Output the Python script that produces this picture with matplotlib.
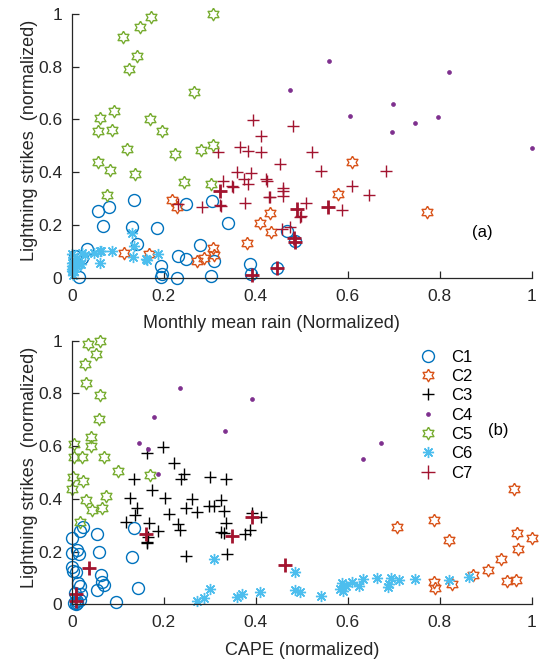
import numpy as np
import matplotlib
matplotlib.use("Agg")
import matplotlib.pyplot as plt

plt.rcParams['font.family'] = ['Liberation Sans', 'DejaVu Sans']

# ---------------- data (lightning strikes, monthly mean rain, CAPE) ----------------
c1_light = [0.294, 0.291, 0.279, 0.267, 0.253, 0.206, 0.197, 0.193, 0.189, 0.179, 0.140, 0.128,
            0.124, 0.111, 0.084, 0.082, 0.074, 0.070, 0.063, 0.054, 0.044, 0.038, 0.016, 0.014,
            0.007, 0.005, 0.004, 0.001]
c1_rain = [0.135, 0.304, 0.248, 0.081, 0.056, 0.339, 0.068, 0.130, 0.186, 0.467, 0.484, 0.141,
           0.278, 0.032, 0.230, 0.007, 0.021, 0.247, 0.309, 0.387, 0.193, 0.446, 0.195, 0.390,
           0.302, 0.193, 0.015, 0.229]
c1_cape = [0.024, 0.136, 0.017, 0.055, 0.000, 0.012, 0.059, 0.000, 0.015, 0.130, 0.000, 0.002,
           0.008, 0.063, 0.065, 0.013, 0.069, 0.018, 0.144, 0.054, 0.007, 0.020, 0.017, 0.010,
           0.096, 0.004, 0.012, 0.008]

c2_light = [0.439, 0.318, 0.295, 0.270, 0.250, 0.245, 0.208, 0.172, 0.131, 0.113, 0.093, 0.090,
            0.086, 0.076, 0.062]
c2_rain = [0.609, 0.578, 0.217, 0.229, 0.772, 0.431, 0.409, 0.432, 0.380, 0.306, 0.114, 0.168,
           0.309, 0.287, 0.271]
c2_cape = [0.961, 0.787, 0.706, 0.967, 1.000, 0.820, 0.970, 0.933, 0.904, 0.872, 0.965, 0.946,
           0.787, 0.827, 0.789]

c3_light = [0.597, 0.574, 0.536, 0.494, 0.482, 0.477, 0.477, 0.475, 0.433, 0.405, 0.405, 0.400,
            0.396, 0.374, 0.374, 0.367, 0.366, 0.354, 0.349, 0.348, 0.344, 0.339, 0.330, 0.314,
            0.309, 0.307, 0.305, 0.283, 0.282, 0.279, 0.275, 0.272, 0.267, 0.257, 0.235, 0.232,
            0.192, 0.184]
c3_rain = [0.393, 0.480, 0.412, 0.365, 0.382, 0.318, 0.412, 0.522, 0.452, 0.541, 0.683, 0.359,
           0.389, 0.375, 0.423, 0.329, 0.425, 0.383, 0.609, 0.348, 0.350, 0.459, 0.460, 0.646,
           0.459, 0.429, 0.431, 0.376, 0.510, 0.230, 0.323, 0.325, 0.283, 0.587, 0.499, 0.496,
           0.474, 0.457]
c3_cape = [0.199, 0.164, 0.221, 0.244, 0.300, 0.238, 0.335, 0.136, 0.175, 0.127, 0.202, 0.260,
           0.325, 0.297, 0.309, 0.141, 0.248, 0.330, 0.271, 0.391, 0.211, 0.137, 0.412, 0.117,
           0.167, 0.334, 0.231, 0.236, 0.387, 0.187, 0.324, 0.331, 0.377, 0.166, 0.164, 0.164,
           0.338, 0.249]

c4_light = [0.821, 0.778, 0.711, 0.657, 0.612, 0.611, 0.588, 0.551, 0.493]
c4_rain = [0.559, 0.820, 0.474, 0.699, 0.604, 0.795, 0.745, 0.696, 1.000]
c4_cape = [0.236, 0.392, 0.178, 0.332, 0.146, 0.672, 0.166, 0.633, 0.188]

c5_light = [1.000, 0.988, 0.951, 0.913, 0.839, 0.792, 0.703, 0.633, 0.607, 0.600, 0.560, 0.558,
            0.557, 0.505, 0.490, 0.484, 0.468, 0.439, 0.409, 0.394, 0.364, 0.356, 0.312]
c5_rain = [0.307, 0.171, 0.149, 0.110, 0.141, 0.124, 0.265, 0.091, 0.062, 0.169, 0.086, 0.057,
           0.195, 0.306, 0.120, 0.280, 0.224, 0.056, 0.082, 0.138, 0.244, 0.302, 0.077]
c5_cape = [0.062, 0.034, 0.053, 0.028, 0.030, 0.061, 0.059, 0.041, 0.005, 0.041, 0.005, 0.022,
           0.069, 0.101, 0.170, 0.003, 0.025, 0.001, 0.075, 0.030, 0.066, 0.043, 0.017]

c6_light = [0.171, 0.122, 0.102, 0.101, 0.100, 0.096, 0.095, 0.092, 0.091, 0.086, 0.080, 0.076,
            0.071, 0.069, 0.067, 0.058, 0.057, 0.054, 0.052, 0.046, 0.045, 0.039, 0.033, 0.027,
            0.025, 0.012]
c6_rain = [0.130, 0.134, 0.062, 0.064, 0.088, 0.047, 0.022, 0.188, 0.000, 0.029, 0.133, 0.011,
           0.162, 0.163, 0.004, 0.060, 0.000, 0.015, 0.020, 0.000, 0.010, 0.007, 0.000, 0.005,
           0.000, 0.002]
c6_cape = [0.309, 0.485, 0.863, 0.693, 0.664, 0.633, 0.746, 0.712, 0.820, 0.609, 0.588, 0.690,
           0.597, 0.625, 0.688, 0.583, 0.301, 0.485, 0.590, 0.409, 0.496, 0.369, 0.541, 0.358,
           0.287, 0.271]

c7_light = [0.330, 0.268, 0.260, 0.150, 0.137, 0.038, 0.012]
c7_rain = [0.323, 0.556, 0.490, 0.483, 0.485, 0.446, 0.391]
c7_cape = [0.391, 0.161, 0.349, 0.463, 0.037, 0.008, 0.008]

labels = ['C1', 'C2', 'C3', 'C4', 'C5', 'C6', 'C7']
ticks = [0, 0.2, 0.4, 0.6, 0.8, 1]
tick_labels = ['0', '0.2', '0.4', '0.6', '0.8', '1']

# ---------------- styles ----------------
BLUE, ORANGE, PURPLE = '#0072BD', '#D95319', '#7E2F8E'
GREEN, CYAN, RED = '#77AC30', '#4DBEEE', '#A2142F'

ang = np.pi / 2 + np.arange(12) * np.pi / 6
rad = np.where(np.arange(12) % 2 == 0, 1.0, 1 / np.sqrt(3))
hexagram = np.column_stack([rad * np.cos(ang), rad * np.sin(ang)])
hexagram = np.vstack([hexagram, hexagram[:1]])

FS_LAB = 13
FS_TICK = 12.5
FS_LEG = 12
TXT = '#262626'

fig = plt.figure(figsize=(5.41, 6.6), dpi=100)
ax1 = fig.add_axes([0.133, 0.579, 0.850, 0.400])
ax2 = fig.add_axes([0.133, 0.0844, 0.850, 0.3995])


def draw(ax, xs, c3_color):
    kw = dict(linestyle='none', clip_on=False)
    ax.plot(xs[0], c1_light, marker='o', ms=8.6, mfc='none', mec=BLUE, mew=1.0, label=labels[0], **kw)
    ax.plot(xs[1], c2_light, marker=hexagram, ms=9.0, mfc='none', mec=ORANGE, mew=1.0, label=labels[1], **kw)
    ax.plot(xs[2], c3_light, marker='+', ms=9.0, mec=c3_color, mew=1.0, label=labels[2], **kw)
    ax.plot(xs[3], c4_light, marker='o', ms=2.8, mfc=PURPLE, mec=PURPLE, mew=0.5, label=labels[3], **kw)
    ax.plot(xs[4], c5_light, marker=hexagram, ms=9.0, mfc='none', mec=GREEN, mew=1.0, label=labels[4], **kw)
    ax.plot(xs[5], c6_light, marker=(8, 2, 0), ms=8.0, mec=CYAN, mew=1.0, label=labels[5], **kw)
    ax.plot(xs[6], c7_light, marker='+', ms=9.5, mec=RED, mew=2.0, label=labels[6], **kw)
    ax.set_xlim(0, 1)
    ax.set_ylim(0, 1)
    ax.set_xticks(ticks)
    ax.set_xticklabels(tick_labels)
    ax.set_yticks(ticks)
    ax.set_yticklabels(tick_labels)
    ax.tick_params(direction='in', length=5, width=0.9, colors=TXT, labelsize=FS_TICK)
    ax.tick_params(axis='x', pad=8)
    ax.tick_params(axis='y', pad=7)
    for s in ['top', 'right']:
        ax.spines[s].set_visible(False)
    for s in ['left', 'bottom']:
        ax.spines[s].set_color(TXT)
        ax.spines[s].set_linewidth(0.9)
    ax.set_ylabel('Lightning strikes  (normalized)', fontsize=FS_LAB, color=TXT)
    ax.yaxis.set_label_coords(-0.074, 0.52)


draw(ax1, [c1_rain, c2_rain, c3_rain, c4_rain, c5_rain, c6_rain, c7_rain], RED)
ax1.set_xlabel('Monthly mean rain (Normalized)', fontsize=FS_LAB, color=TXT)
ax1.xaxis.set_label_coords(0.433, -0.142)
ax1.text(0.893, 0.171, '(a)', transform=ax1.transAxes, fontsize=FS_LEG, ha='center', va='center', color='black')

draw(ax2, [c1_cape, c2_cape, c3_cape, c4_cape, c5_cape, c6_cape, c7_cape], 'black')
ax2.set_xlabel('CAPE (normalized)', fontsize=FS_LAB, color=TXT, labelpad=8)
ax2.text(0.928, 0.661, '(b)', transform=ax2.transAxes, fontsize=FS_LEG, ha='center', va='center', color='black')

handles, labs = ax2.get_legend_handles_labels()
leg = ax2.legend(handles, labs, loc='upper left', bbox_to_anchor=(0.727, 1.01), frameon=False,
                 fontsize=FS_LEG, handlelength=1.2, handletextpad=0.8, labelspacing=0.26,
                 borderpad=0.2, markerscale=1.0)
for t in leg.get_texts():
    t.set_color('black')
leg.legend_handles[6].set_markeredgewidth(1.0)

fig.savefig('out.png', dpi=100)
